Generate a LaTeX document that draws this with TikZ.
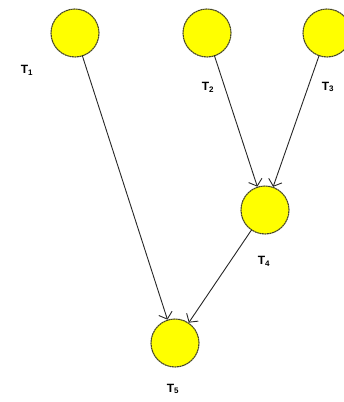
\documentclass[tikz,border=0pt]{standalone}
\usepackage{fontspec}
\setmainfont{Liberation Sans}
\usetikzlibrary{arrows.meta, positioning}
\definecolor{taskFill}{RGB}{255,255,0}
\definecolor{taskLine}{RGB}{70,70,40}
\tikzset{
  taskNode/.style={
    circle,
    draw=taskLine,
    fill=taskFill,
    line width=1.1pt,
    dash pattern=on 2pt off 0.5pt,
    minimum size=48pt,
    inner sep=0pt
  },
  taskLabel/.style={font=\fontsize{12}{14}\selectfont\bfseries, inner sep=0pt},
  taskFlow/.style={-{Straight Barb[length=6pt,width=14pt]}, draw=black!85, line width=0.9pt, shorten <=-1pt}
}
\begin{document}
\begin{tikzpicture}[x=1pt, y=-1pt]
  \useasboundingbox (0,0) rectangle (344,402);
  \clip (0,0) rectangle (344,402);
  \node[taskNode] (t1) at (75,33) {};
  \node[taskNode] (t2) at (207,33) {};
  \node[taskNode] (t3) at (327,33) {};
  \node[taskNode] (t4) at (265,210) {};
  \node[taskNode] (t5) at (175,343) {};

  \node[taskLabel] (l1) at (27,70) {T\textsubscript{1}};
  \node[taskLabel] (l2) at (208,87) {T\textsubscript{2}};
  \node[taskLabel] (l3) at (328,87) {T\textsubscript{3}};
  \node[taskLabel] (l4) at (264,261) {T\textsubscript{4}};
  \node[taskLabel] (l5) at (173,389) {T\textsubscript{5}};

  \draw[taskFlow] (t1) -- (t5);
  \draw[taskFlow] (t2) -- (t4);
  \draw[taskFlow] (t3) -- (t4);
  \draw[taskFlow] (t4) -- (t5);
\end{tikzpicture}
\end{document}
